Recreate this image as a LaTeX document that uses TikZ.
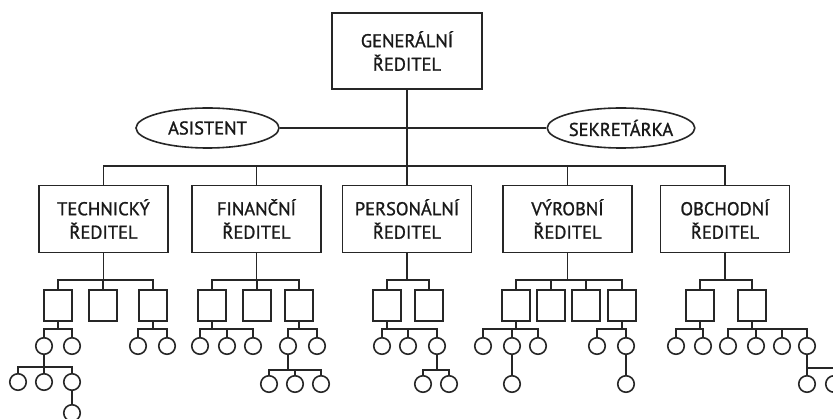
\documentclass[tikz,border=0pt]{standalone}
\usepackage{fontspec}
\setmainfont{PT Sans}
\newfontfamily\orgfont{PT Sans}[FakeBold=1.2]
\usetikzlibrary{shapes.geometric}
\tikzset{
  lbl/.style={font=\orgfont\fontsize{18.5}{23.5}\selectfont, align=center, text=black!90},
  bossbox/.style={draw, rectangle, minimum width=150pt, minimum height=76pt, inner sep=0pt, lbl},
  dirbox/.style={draw, rectangle, minimum width=129pt, minimum height=67pt, inner sep=0pt, lbl},
  aidebox/.style={draw, ellipse, minimum width=143pt, minimum height=40pt, inner sep=0pt, lbl},
  subbox/.style={draw, rectangle, minimum width=28pt, minimum height=31pt, inner sep=0pt},
  leaf/.style={draw, circle, minimum size=16.5pt, inner sep=0pt},
}
\newcommand{\orgfork}[3]{%
  \draw (#1.south) -- (#1.south |- 0,#2);
  \foreach \kid in {#3} {\draw (\kid.north) |- (#1.south |- 0,#2);}
}
\begin{document}
\begin{tikzpicture}[x=1pt, y=-1pt, line width=1.6pt, draw=black!85]
\useasboundingbox (0,0) rectangle (833,419);
% top
\node[bossbox] (gen) at (407,51) {GENERÁLNÍ\\ŘEDITEL};
\node[aidebox] (asis) at (207.5,128) {ASISTENT};
\node[aidebox] (sekr) at (621,128) {SEKRETÁRKA};
% directors
\node[dirbox] (d1) at (103.5,219) {TECHNICKÝ\\ŘEDITEL};
\node[dirbox] (d2) at (256.5,219) {FINANČNÍ\\ŘEDITEL};
\node[dirbox] (d3) at (407,219) {PERSONÁLNÍ\\ŘEDITEL};
\node[dirbox] (d4) at (567.5,219) {VÝROBNÍ\\ŘEDITEL};
\node[dirbox] (d5) at (725,219) {OBCHODNÍ\\ŘEDITEL};
% level 2 boxes
\foreach \n/\x in {s11/58, s12/103, s13/153, s21/212, s22/257, s23/299,
  s31/387, s32/429, s41/516, s42/551, s43/586, s44/622, s51/700, s52/752}
  \node[subbox] (\n) at (\x,305.5) {};
% level 3 circles
\foreach \n/\x in {c111/44, c112/72, c131/138, c132/167,
  c211/200, c212/227, c213/253, c231/288, c232/317,
  c311/382, c312/408, c313/437,
  c411/483, c412/512, c413/538, c441/597, c442/626,
  c511/676, c512/703, c521/728, c522/756, c523/782, c524/807}
  \node[leaf] (\n) at (\x,346) {};
% level 4 circles
\foreach \n/\x in {g1/18, g2/44, g3/72}
  \node[leaf] (\n) at (\x,382) {};
\foreach \n/\x in {f1/269, f2/295, f3/321, p1/423, p2/449,
  v1/512, v2/626, o1/807, o2/834}
  \node[leaf] (\n) at (\x,384) {};
% level 5
\node[leaf] (h1) at (72,413) {};
% connectors
\draw (asis) -- (sekr);
\orgfork{gen}{166}{d1,d2,d3,d4,d5}
\orgfork{d1}{280}{s11,s12,s13}
\orgfork{d2}{280}{s21,s22,s23}
\orgfork{d3}{280}{s31,s32}
\orgfork{d4}{280}{s41,s42,s43,s44}
\orgfork{d5}{280}{s51,s52}
\orgfork{s11}{329}{c111,c112}
\orgfork{s13}{329}{c131,c132}
\orgfork{s21}{329}{c211,c212,c213}
\orgfork{s23}{329}{c231,c232}
\orgfork{s31}{329}{c311,c312,c313}
\orgfork{s41}{329}{c411,c412,c413}
\orgfork{s44}{329}{c441,c442}
\orgfork{s51}{329}{c511,c512}
\orgfork{s52}{329}{c521,c522,c523,c524}
\orgfork{c111}{367}{g1,g2,g3}
\orgfork{c231}{370}{f1,f2,f3}
\orgfork{c313}{370}{p1,p2}
\orgfork{c524}{368}{o1,o2}
\draw (c412) -- (v1);
\draw (c442) -- (v2);
\draw (g3) -- (h1);
\end{tikzpicture}
\end{document}
